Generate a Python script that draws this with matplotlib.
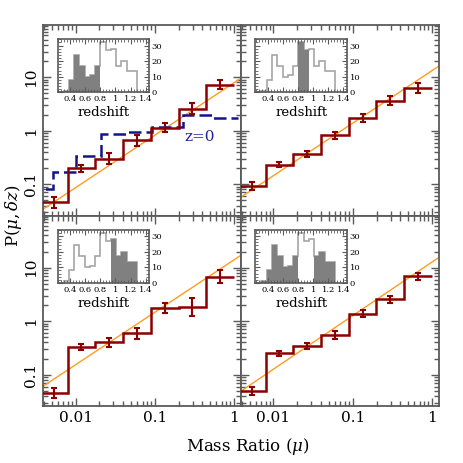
import numpy as np
import matplotlib
matplotlib.use("Agg")
import matplotlib.pyplot as plt
from matplotlib.ticker import LogLocator, NullFormatter, FixedLocator, MultipleLocator, AutoMinorLocator

plt.rcParams['font.family'] = ['DejaVu Serif']
plt.rcParams['mathtext.fontset'] = 'dejavuserif'

# mass-ratio bins (log10 edges) and measured P(mu, dz) per panel
mu_edges_log = [-2.45, -2.1, -1.75, -1.4, -1.05, -0.7, -0.35, 0.0]
p_tl = [0.046, 0.197, 0.30, 0.66, 1.14, 2.58, 7.2]
p_tr = [0.092, 0.23, 0.37, 0.82, 1.71, 3.64, 6.2]
p_bl = [0.045, 0.335, 0.40, 0.59, 1.79, 1.84, 6.8]
p_br = [0.050, 0.25, 0.345, 0.555, 1.39, 2.55, 6.9]
# error bars in dex
err_tl = [0.10, 0.07, 0.10, 0.10, 0.09, 0.10, 0.08]
err_tr = [0.07, 0.045, 0.06, 0.07, 0.07, 0.08, 0.095]
err_bl = [0.09, 0.055, 0.08, 0.10, 0.094, 0.165, 0.12]
err_br = [0.07, 0.04, 0.056, 0.078, 0.063, 0.072, 0.07]

# power-law fits  P = A * mu^alpha
fit_norm = [7.85, 13.2, 14.0, 12.7]
fit_slope = [0.98, 0.98, 0.98, 1.0]

# z=0 comparison (top-left only)
z0_edges_log = [-2.6, -2.29, -1.99, -1.675, -1.34, -1.04, -0.64, -0.28, 0.05]
z0_vals = [0.081, 0.167, 0.34, 0.87, 0.96, 1.19, 1.96, 1.70]

# redshift histogram of the sample (inset)
z_edges = [0.24, 0.31, 0.38, 0.45, 0.52, 0.59, 0.66, 0.73, 0.80, 0.87,
           0.94, 1.01, 1.08, 1.15, 1.22, 1.29]
z_counts = [0, 1, 8, 24, 17, 10, 11, 17, 32, 27, 28, 17, 20, 13.5, 13.5]
# which bins are selected in each panel
sel_tl = [1, 1, 1, 1, 1, 1, 1, 1, 0, 0, 0, 0, 0, 0, 0]
sel_tr = [0, 0, 0, 0, 0, 0, 0, 0, 1, 1, 0, 0, 0, 0, 0]
sel_bl = [0, 0, 0, 0, 0, 0, 0, 0, 0, 0, 1, 1, 1, 1, 1]
sel_br = [1, 1, 1, 1, 1, 1, 1, 1, 0, 0, 0, 1, 1, 1, 1]

frame = '#5a5a5a'
red = '#8b0000'

fig, axs = plt.subplots(2, 2, figsize=(4.63, 4.63), dpi=100, sharex=True, sharey=True)
fig.subplots_adjust(left=0.093, right=0.948, top=0.946, bottom=0.123, wspace=0, hspace=0)

mu_edges = 10 ** np.array(mu_edges_log)
mu_cent = np.sqrt(mu_edges[:-1] * mu_edges[1:])
panels = [(axs[0, 0], p_tl, err_tl, sel_tl), (axs[0, 1], p_tr, err_tr, sel_tr),
          (axs[1, 0], p_bl, err_bl, sel_bl), (axs[1, 1], p_br, err_br, sel_br)]

xlo, xhi = 10 ** -2.41, 10 ** 0.088
xg = np.logspace(-2.41, 0.088, 50)

for i, (ax, p, e, sel) in enumerate(panels):
    p = np.array(p)
    e = np.array(e)
    ax.set_xscale('log')
    ax.set_yscale('log')
    ax.plot(xg, fit_norm[i] * xg ** fit_slope[i], color='#ff9d1c', lw=1.0, zorder=2)
    ax.stairs(p, mu_edges, baseline=None, color=red, lw=1.8, zorder=3)
    ax.errorbar(mu_cent, p, yerr=[p - p * 10 ** -e, p * 10 ** e - p], fmt='none',
                ecolor=red, elinewidth=1.5, capsize=2.5, capthick=1.5, zorder=4)
    ax.set_xlim(xlo, xhi)
    ax.set_ylim(0.026, 94)
    for s in ax.spines.values():
        s.set_color(frame)
        s.set_linewidth(1.3)
    ax.tick_params(which='both', direction='in', top=True, right=True, color=frame,
                   labelsize=11, width=1.0)
    ax.tick_params(which='major', length=6)
    ax.tick_params(which='minor', length=3.5)
    ax.xaxis.set_minor_locator(LogLocator(base=10, subs=np.arange(2, 10), numticks=20))
    ax.yaxis.set_minor_locator(LogLocator(base=10, subs=np.arange(2, 10), numticks=20))
    ax.xaxis.set_minor_formatter(NullFormatter())
    ax.yaxis.set_minor_formatter(NullFormatter())

    # inset redshift histogram
    ins = ax.inset_axes([0.073, 0.646, 0.462, 0.279])
    cnt = np.array(z_counts, dtype=float)
    ins.stairs(cnt, z_edges, color='#a6a6a6', lw=1.2)
    ins.stairs(cnt * np.array(sel), z_edges, fill=True, color='#808080', lw=0)
    ins.set_xlim(0.23, 1.445)
    ins.set_ylim(0, 34)
    ins.xaxis.set_major_locator(FixedLocator([0.4, 0.6, 0.8, 1.0, 1.2, 1.4]))
    ins.set_xticklabels(['0.4', '0.6', '0.8', '1', '1.2', '1.4'])
    ins.xaxis.set_minor_locator(AutoMinorLocator(5))
    ins.yaxis.set_major_locator(MultipleLocator(10))
    ins.yaxis.set_minor_locator(MultipleLocator(2))
    ins.yaxis.tick_right()
    ins.tick_params(which='both', direction='in', top=True, left=True, right=True,
                    color=frame, labelsize=6, pad=2)
    ins.tick_params(which='major', length=3.5)
    ins.tick_params(which='minor', length=2)
    for s in ins.spines.values():
        s.set_color(frame)
        s.set_linewidth(1.2)
    ins.set_xlabel('redshift', fontsize=9.5, labelpad=2)

ax = axs[0, 0]
ax.stairs(z0_vals, 10 ** np.array(z0_edges_log), baseline=None, color='#14148a', lw=1.8,
          linestyle=(0, (5, 2)), zorder=2.5)
ax.text(0.79, 0.414, 'z=0', color='#22229a', fontsize=11, ha='center', va='center',
        transform=ax.transAxes)

for ax in axs[:, 0]:
    ax.yaxis.set_major_locator(FixedLocator([0.1, 1, 10]))
    ax.set_yticklabels(['0.1', '1', '10'], rotation=90, va='center')
for ax in axs[1, :]:
    ax.xaxis.set_major_locator(FixedLocator([0.01, 0.1, 1]))
    ax.set_xticklabels(['0.01', '0.1', '1'])

fig.text(0.03, 0.535, r'P$(\mu,\delta z)$', rotation=90, fontsize=12, ha='center', va='center')
fig.text(0.535, 0.035, r'Mass Ratio ($\mu$)', fontsize=12, ha='center', va='center')

fig.savefig('out.png', dpi=100)
